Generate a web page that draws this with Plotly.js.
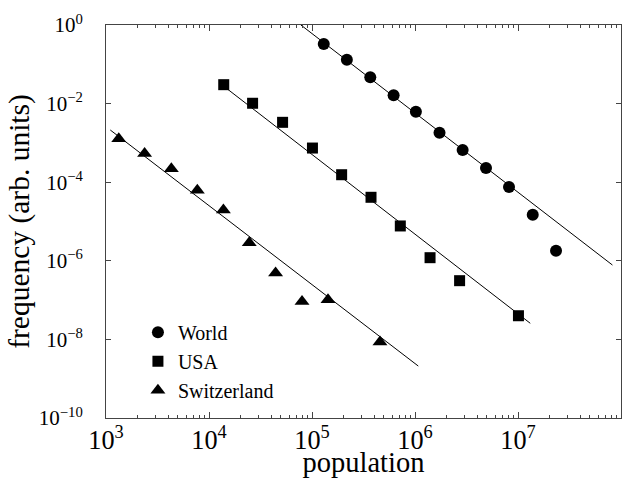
<!DOCTYPE html>
<html>
<head>
<meta charset="utf-8">
<script src="https://cdn.plot.ly/plotly-3.0.1.min.js"></script>
<style>html,body{margin:0;padding:0;background:#fff;}#chart{width:632px;height:478px;}</style>
</head>
<body>
<div id="chart"></div>
<script>
// Data (population vs frequency, log-log)
var worldX = [1.30e5, 2.18e5, 3.68e5, 6.2e5, 1.02e6, 1.73e6, 2.9e6, 4.89e6, 8.18e6, 1.39e7, 2.34e7];
var worldY = [0.329, 0.131, 0.0467, 0.0163, 6.2e-3, 1.82e-3, 6.6e-4, 2.3e-4, 7.55e-5, 1.49e-5, 1.81e-6];
var usaX = [1.39e4, 2.65e4, 5.18e4, 1.01e5, 1.94e5, 3.74e5, 7.2e5, 1.40e6, 2.71e6, 1.01e7];
var usaY = [3.03e-2, 1.02e-2, 3.34e-3, 7.4e-4, 1.55e-4, 4.13e-5, 7.7e-6, 1.2e-6, 3.12e-7, 4.0e-8];
var swissX = [1.33e3, 2.37e3, 4.31e3, 7.7e3, 1.38e4, 2.46e4, 4.43e4, 8.0e4, 1.43e5, 4.57e5];
var swissY = [1.28e-3, 5.4e-4, 2.2e-4, 6.2e-5, 1.95e-5, 2.88e-6, 4.86e-7, 9.2e-8, 1.02e-7, 8.6e-9];

// Fitted power-law lines (end points)
var worldFitX = [7.8e4, 8.26e7];
var worldFitY = [1, 7.8e-7];
var usaFitX = [1.39e4, 1.315e7];
var usaFitY = [2.77e-2, 2.57e-8];
var swissFitX = [1.10e3, 1.076e6];
var swissFitY = [2.13e-3, 2.1e-9];

var seriesNames = ['World', 'USA', 'Switzerland'];
var yTickVals = [1, 1e-2, 1e-4, 1e-6, 1e-8, 1e-10];
var yTickText = ['10<sup>0</sup>', '10<sup>\u22122</sup>', '10<sup>\u22124</sup>', '10<sup>\u22126</sup>', '10<sup>\u22128</sup>', '10<sup>\u221210</sup>'];

var fontFam = 'Liberation Serif, Times New Roman, serif';

function fitLine(x, y) {
  return {x: x, y: y, mode: 'lines', type: 'scatter', showlegend: false,
          line: {color: '#000', width: 1}, hoverinfo: 'skip'};
}
function pts(x, y, name, sym, size) {
  return {x: x, y: y, mode: 'markers', type: 'scatter', name: name,
          marker: {symbol: sym, size: size, color: '#000'}};
}

var traces = [
  fitLine(worldFitX, worldFitY),
  fitLine(usaFitX, usaFitY),
  fitLine(swissFitX, swissFitY),
  pts(worldX, worldY, seriesNames[0], 'circle', 12),
  pts(usaX, usaY, seriesNames[1], 'square', 11),
  pts(swissX, swissY, seriesNames[2], 'triangle-up', 13)
];

var axisCommon = {
  showgrid: false, zeroline: false, showline: true, linecolor: '#444', linewidth: 1,
  mirror: 'ticks', ticks: 'inside', tickcolor: '#444', tickwidth: 1,
  tickfont: {family: fontFam, size: 21, color: '#000'}
};

var layout = {
  width: 632, height: 478,
  margin: {l: 106, r: 11, t: 25, b: 60},
  paper_bgcolor: '#fff', plot_bgcolor: '#fff',
  font: {family: fontFam, color: '#000'},
  xaxis: Object.assign({}, axisCommon, {
    type: 'log', range: [3, 8], dtick: 1, exponentformat: 'power', ticklen: 6,
    ticklabelstandoff: 0,
    minor: {ticks: 'inside', dtick: 'D1', ticklen: 3, tickcolor: '#444', showgrid: false},
    title: {text: 'population', font: {family: fontFam, size: 28.5, color: '#000'}, standoff: 1}
  }),
  yaxis: Object.assign({}, axisCommon, {
    type: 'log', range: [-10, 0], tickmode: 'array', tickvals: yTickVals, ticktext: yTickText,
    ticklen: 5, ticklabelstandoff: 18,
    title: {text: 'frequency (arb. units)', font: {family: fontFam, size: 29.5, color: '#000'}, standoff: 0}
  }),
  showlegend: true,
  legend: {x: 0.062, y: 0.268, xanchor: 'left', yanchor: 'top', bgcolor: 'rgba(0,0,0,0)',
           font: {family: fontFam, size: 20, color: '#000'}, itemwidth: 30, tracegroupgap: 0}
};

Plotly.newPlot('chart', traces, layout, {displayModeBar: false, staticPlot: true});
</script>
</body>
</html>
